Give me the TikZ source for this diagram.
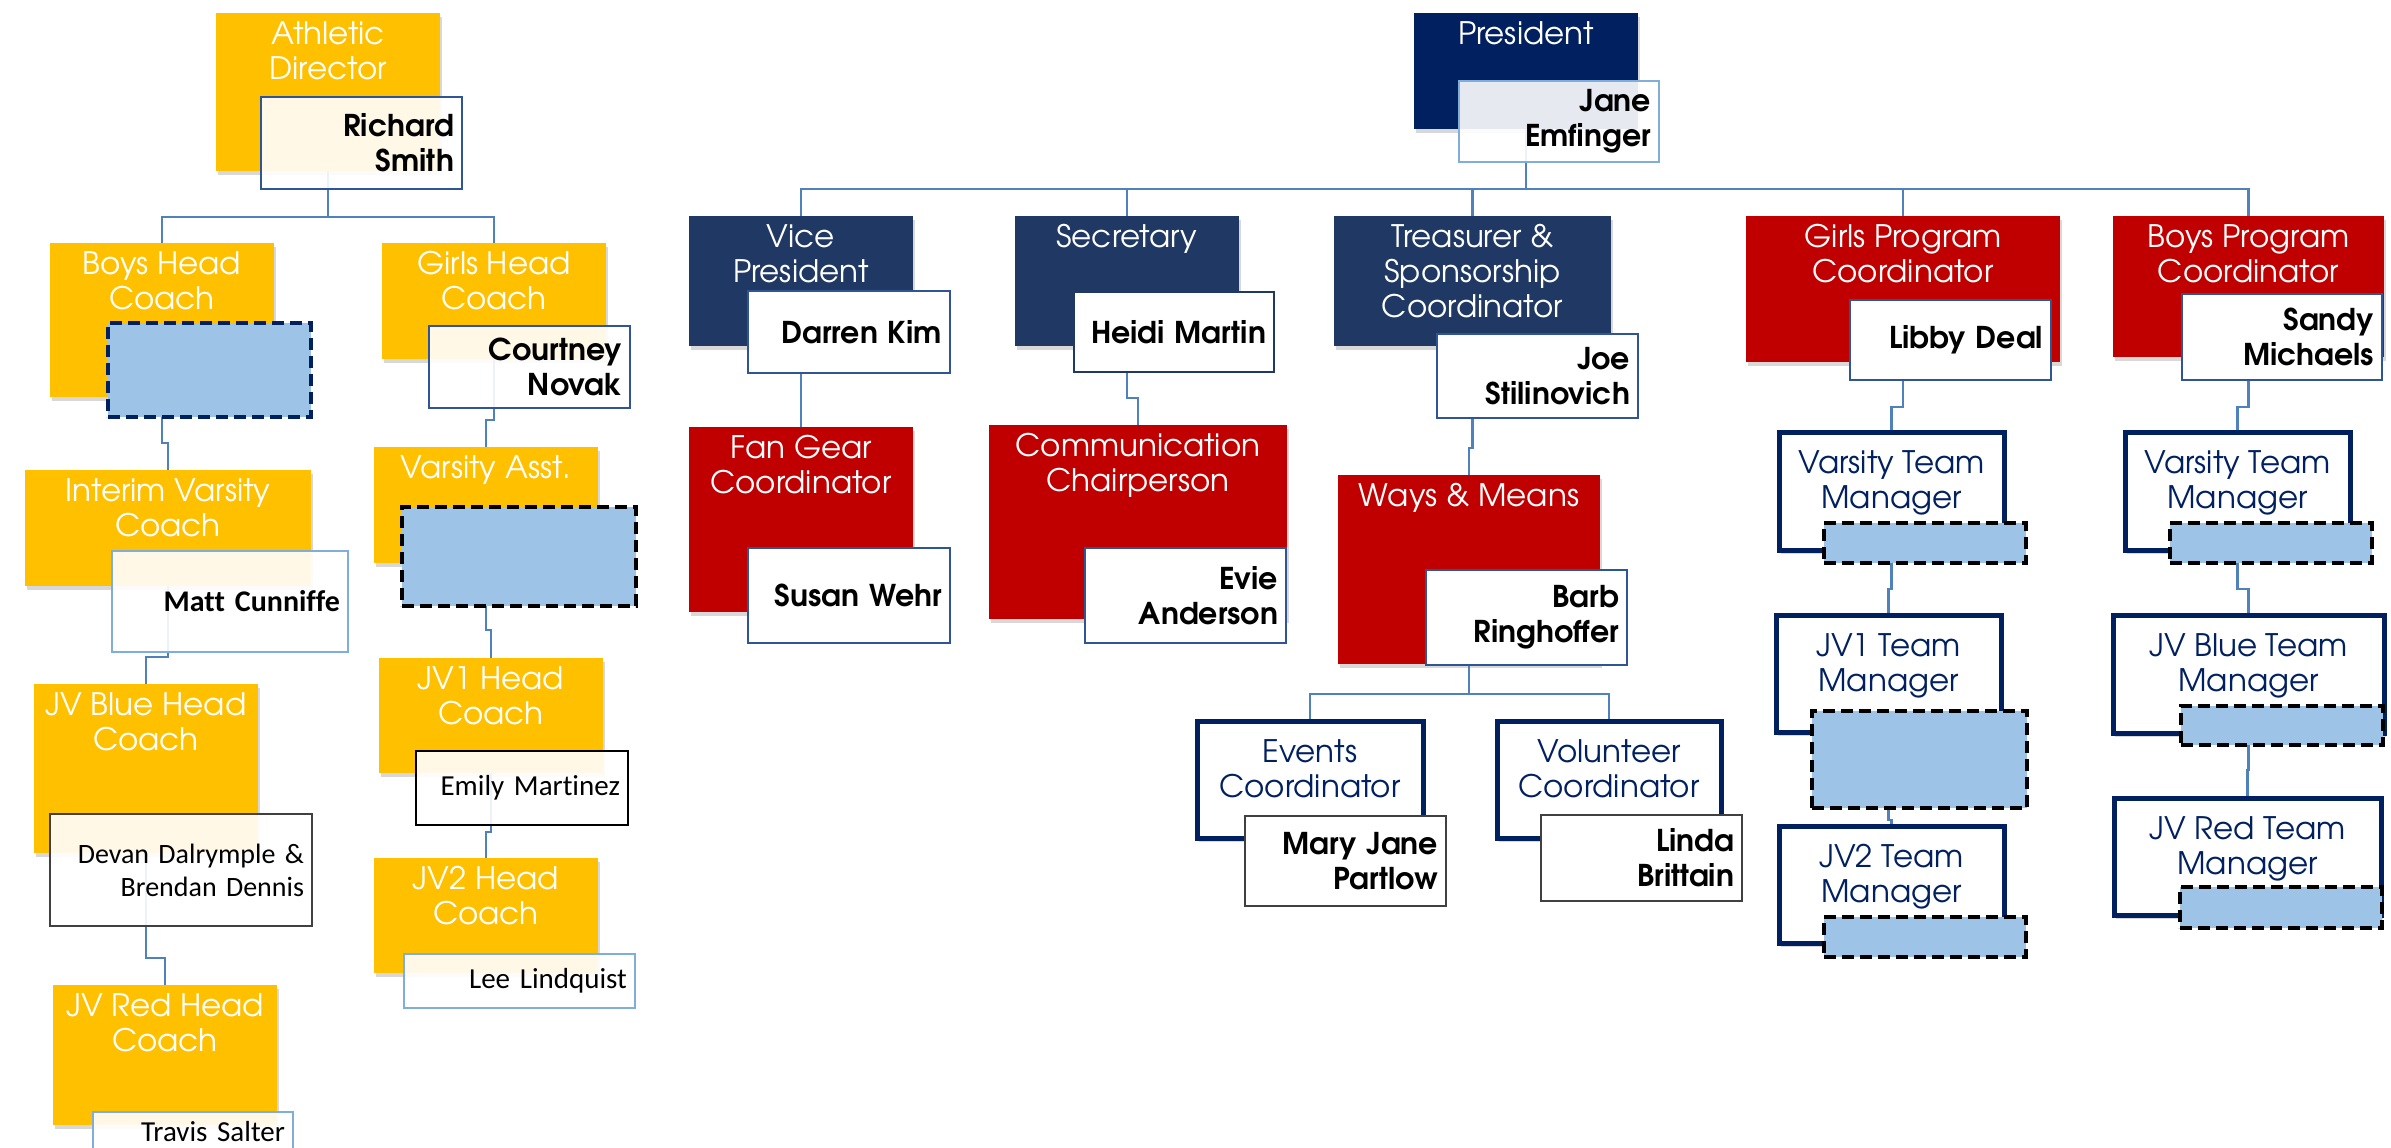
\documentclass[tikz,border=0pt]{standalone}
\usepackage{fontspec}
\newfontfamily\gothic{texgyreadventor}[Extension=.otf, UprightFont=*-regular, BoldFont=*-bold]
\newfontfamily\calibri{Carlito}[Ligatures=NoCommon]
\usetikzlibrary{shadows,backgrounds}

\definecolor{coachgold}{HTML}{FFC000}
\definecolor{presblue}{HTML}{002060}
\definecolor{offblue}{HTML}{1F3864}
\definecolor{crimson}{HTML}{C00000}
\definecolor{linkblue}{HTML}{4F81BD}
\definecolor{paleblue}{HTML}{9DC3E6}
\definecolor{edgeblue}{HTML}{2F5597}
\definecolor{skyedge}{HTML}{7FAEDC}
\definecolor{inkgray}{HTML}{404040}

\tikzset{
  role/.style={anchor=north west, inner sep=0pt, outer sep=0pt,
    drop shadow={opacity=.3, shadow xshift=2pt, shadow yshift=-4pt}},
  team/.style={role, fill=white, draw=presblue, line width=5pt},
  ttl/.style={anchor=north, inner sep=0pt, yshift=-8pt, align=center, text=white,
    font=\gothic\fontsize{31}{35}\selectfont},
  navyttl/.style={ttl, text=presblue, yshift=-10pt},
  who/.style={anchor=north west, inner xsep=8pt, inner ysep=0pt, outer sep=0pt, align=right,
    fill=white, draw=edgeblue, line width=1.5pt, font=\gothic\bfseries\fontsize{30}{35}\selectfont},
  glass/.style={fill opacity=.9, text opacity=1},
  cal/.style={font=\calibri\fontsize{29}{34}\selectfont},
  calb/.style={font=\calibri\bfseries\fontsize{30}{35}\selectfont},
  blank/.style={anchor=north west, inner sep=0pt, outer sep=0pt, fill=paleblue, draw=black,
    line width=4pt, dash pattern=on 12pt off 6pt},
  link/.style={draw=linkblue, line width=2.6pt}
}

\begin{document}
\begin{tikzpicture}[x=1pt,y=-1pt]
\useasboundingbox (0,0) rectangle (2391,1148);

% athletics
\node[role, fill=coachgold, minimum width=224, minimum height=158, label={[ttl]north:Athletic\\Director}] (ad) at (216,13) {};
\node[who, glass, text width=185pt, minimum height=92] (adn) at (261,97) {Richard\\Smith};

\node[role, fill=coachgold, minimum width=224, minimum height=154, label={[ttl]north:Boys Head\\Coach}] (bhc) at (50,243) {};
\node[blank, draw=presblue, minimum width=203, minimum height=94] (bhcn) at (108,323) {};

\node[role, fill=coachgold, minimum width=224, minimum height=116, label={[ttl]north:Girls Head\\Coach}] (ghc) at (382,243) {};
\node[who, glass, text width=185pt, minimum height=82] (ghcn) at (429,326) {Courtney\\Novak};

\node[role, fill=coachgold, minimum width=286, minimum height=116, label={[ttl]north:Interim Varsity\\Coach}] (ivc) at (25,470) {};
\node[who, glass, calb, draw=skyedge, text width=220pt, minimum height=101] (ivcn) at (112,551) {Matt Cunniffe};

\node[role, fill=coachgold, minimum width=224, minimum height=169, label={[ttl]north:JV Blue Head\\Coach}] (jvb) at (34,684) {};
\node[who, glass, cal, font=\calibri\fontsize{28}{33}\selectfont, draw=inkgray, text width=246pt, minimum height=112] (jvbn) at (50,814) {Devan Dalrymple \&\\Brendan Dennis};

\node[role, fill=coachgold, minimum width=224, minimum height=140, label={[ttl]north:JV Red Head\\Coach}] (jvr) at (53,985) {};
\node[who, glass, cal, draw=skyedge, text width=184pt, minimum height=40] (jvrn) at (93,1112) {Travis Salter};

\node[role, fill=coachgold, minimum width=224, minimum height=116, label={[ttl]north:Varsity Asst.}] (va) at (374,447) {};
\node[blank, minimum width=234, minimum height=99] (van) at (402,507) {};

\node[role, fill=coachgold, minimum width=224, minimum height=115, label={[ttl]north:JV1 Head\\Coach}] (jv1) at (379,658) {};
\node[who, glass, cal, draw=black, text width=196pt, minimum height=74] (jv1n) at (416,751) {Emily Martinez};

\node[role, fill=coachgold, minimum width=224, minimum height=115, label={[ttl]north:JV2 Head\\Coach}] (jv2) at (374,858) {};
\node[who, glass, cal, draw=skyedge, text width=215pt, minimum height=54] (jv2n) at (404,954) {Lee Lindquist};

% booster club
\node[role, fill=presblue, minimum width=224, minimum height=116, label={[ttl]north:President}] (pres) at (1414,13) {};
\node[who, glass, draw=skyedge, text width=184pt, minimum height=81] (presn) at (1459,81) {Jane\\Emfinger};

\node[role, fill=offblue, minimum width=224, minimum height=130, label={[ttl]north:Vice\\President}] (vp) at (689,216) {};
\node[who, text width=186pt, minimum height=82] (vpn) at (748,291) {Darren Kim};

\node[role, fill=offblue, minimum width=224, minimum height=130, label={[ttl]north:Secretary}] (sec) at (1015,216) {};
\node[who, draw=offblue, text width=184pt, minimum height=80] (secn) at (1074,292) {Heidi Martin};

\node[role, fill=offblue, minimum width=277, minimum height=130, label={[ttl]north:Treasurer \&\\Sponsorship\\Coordinator}] (tre) at (1334,216) {};
\node[who, text width=185pt, minimum height=84] (tren) at (1437,334) {Joe\\Stilinovich};

\node[role, fill=crimson, minimum width=314, minimum height=146, label={[ttl]north:Girls Program\\Coordinator}] (gpc) at (1746,216) {};
\node[who, text width=185pt, minimum height=80] (gpcn) at (1850,300) {Libby Deal};

\node[role, fill=crimson, minimum width=271, minimum height=141, label={[ttl]north:Boys Program\\Coordinator}] (bpc) at (2113,216) {};
\node[who, text width=184pt, minimum height=86] (bpcn) at (2182,294) {Sandy\\Michaels};

\node[role, fill=crimson, minimum width=224, minimum height=185, label={[ttl]north:Fan Gear\\Coordinator}] (fan) at (689,427) {};
\node[who, text width=186pt, minimum height=95] (fann) at (748,548) {Susan Wehr};

\node[role, fill=crimson, minimum width=298, minimum height=194, label={[ttl]north:Communication\\Chairperson}] (com) at (989,425) {};
\node[who, text width=185pt, minimum height=95] (comn) at (1085,548) {Evie\\Anderson};

\node[role, fill=crimson, minimum width=262, minimum height=189, label={[ttl]north:Ways \& Means}] (wm) at (1338,475) {};
\node[who, text width=185pt, minimum height=95] (wmn) at (1426,570) {Barb\\Ringhoffer};

\node[team, minimum width=226, minimum height=117, label={[navyttl]north:Events\\Coordinator}] (evc) at (1197,721) {};
\node[who, draw=inkgray, text width=185pt, minimum height=90] (evcn) at (1245,816) {Mary Jane\\Partlow};

\node[team, minimum width=224, minimum height=117, label={[navyttl]north:Volunteer\\Coordinator}] (voc) at (1497,721) {};
\node[who, draw=inkgray, text width=185pt, minimum height=86] (vocn) at (1541,815) {Linda\\Brittain};

% team managers
\node[team, minimum width=225, minimum height=118, label={[navyttl]north:Varsity Team\\Manager}] (gvt) at (1779,432) {};
\node[blank, minimum width=202, minimum height=40] (gvtn) at (1824,523) {};
\node[team, minimum width=225, minimum height=117, label={[navyttl]north:JV1 Team\\Manager}] (gj1) at (1776,615) {};
\node[blank, minimum width=215, minimum height=97] (gj1n) at (1812,711) {};
\node[team, minimum width=225, minimum height=117, label={[navyttl]north:JV2 Team\\Manager}] (gj2) at (1779,826) {};
\node[blank, minimum width=202, minimum height=40] (gj2n) at (1824,917) {};

\node[team, minimum width=225, minimum height=118, label={[navyttl]north:Varsity Team\\Manager}] (bvt) at (2125,432) {};
\node[blank, minimum width=202, minimum height=40] (bvtn) at (2170,523) {};
\node[team, minimum width=271, minimum height=118, label={[navyttl]north:JV Blue Team\\Manager}] (bjb) at (2113,615) {};
\node[blank, minimum width=202, minimum height=39] (bjbn) at (2181,706) {};
\node[team, minimum width=267, minimum height=117, label={[navyttl]north:JV Red Team\\Manager}] (bjr) at (2114,798) {};
\node[blank, minimum width=202, minimum height=41] (bjrn) at (2180,887) {};

\begin{scope}[on background layer]
\fill[white] (0,0) rectangle (2391,1148);
\draw[link] (ad.south) -- ++(0,46) -| (bhc.north);
\draw[link] (ad.south) -- ++(0,46) -| (ghc.north);
\draw[link] (bhc.south) -- ++(0,46) -| (ivc.north);
\draw[link] (ivc.south) -- ++(0,71) -| (jvb.north);
\draw[link] (jvb.south) -- ++(0,105) -| (jvr.north);
\draw[link] (ghc.south) -- ++(0,61) -| (va.north);
\draw[link] (va.south) -- ++(0,67) -| (jv1.north);
\draw[link] (jv1.south) -- ++(0,59) -| (jv2.north);

\foreach \kid in {vp,sec,tre,gpc,bpc}
  \draw[link] (pres.south) -- ++(0,60) -| (\kid.north);
\draw[link] (vp.south) -- (fan.north);
\draw[link] (sec.south) -- ++(0,52) -| (com.north);
\draw[link] (tre.south) -- ++(0,102) -| (wm.north);
\draw[link] (wm.south) -- ++(0,30) -| (evc.north);
\draw[link] (wm.south) -- ++(0,30) -| (voc.north);
\draw[link] (gpc.south) -- ++(0,45) -| (gvt.north);
\draw[link] (gvt.south) -- ++(0,39) -| (gj1.north);
\draw[link] (gj1.south) -- ++(0,88) -| (gj2.north);
\draw[link] (bpc.south) -- ++(0,50) -| (bvt.north);
\draw[link] (bvt.south) -- ++(0,39) -| (bjb.north);
\draw[link] (bjb.south) -- ++(0,37) -| (bjr.north);
\end{scope}
\end{tikzpicture}
\end{document}
